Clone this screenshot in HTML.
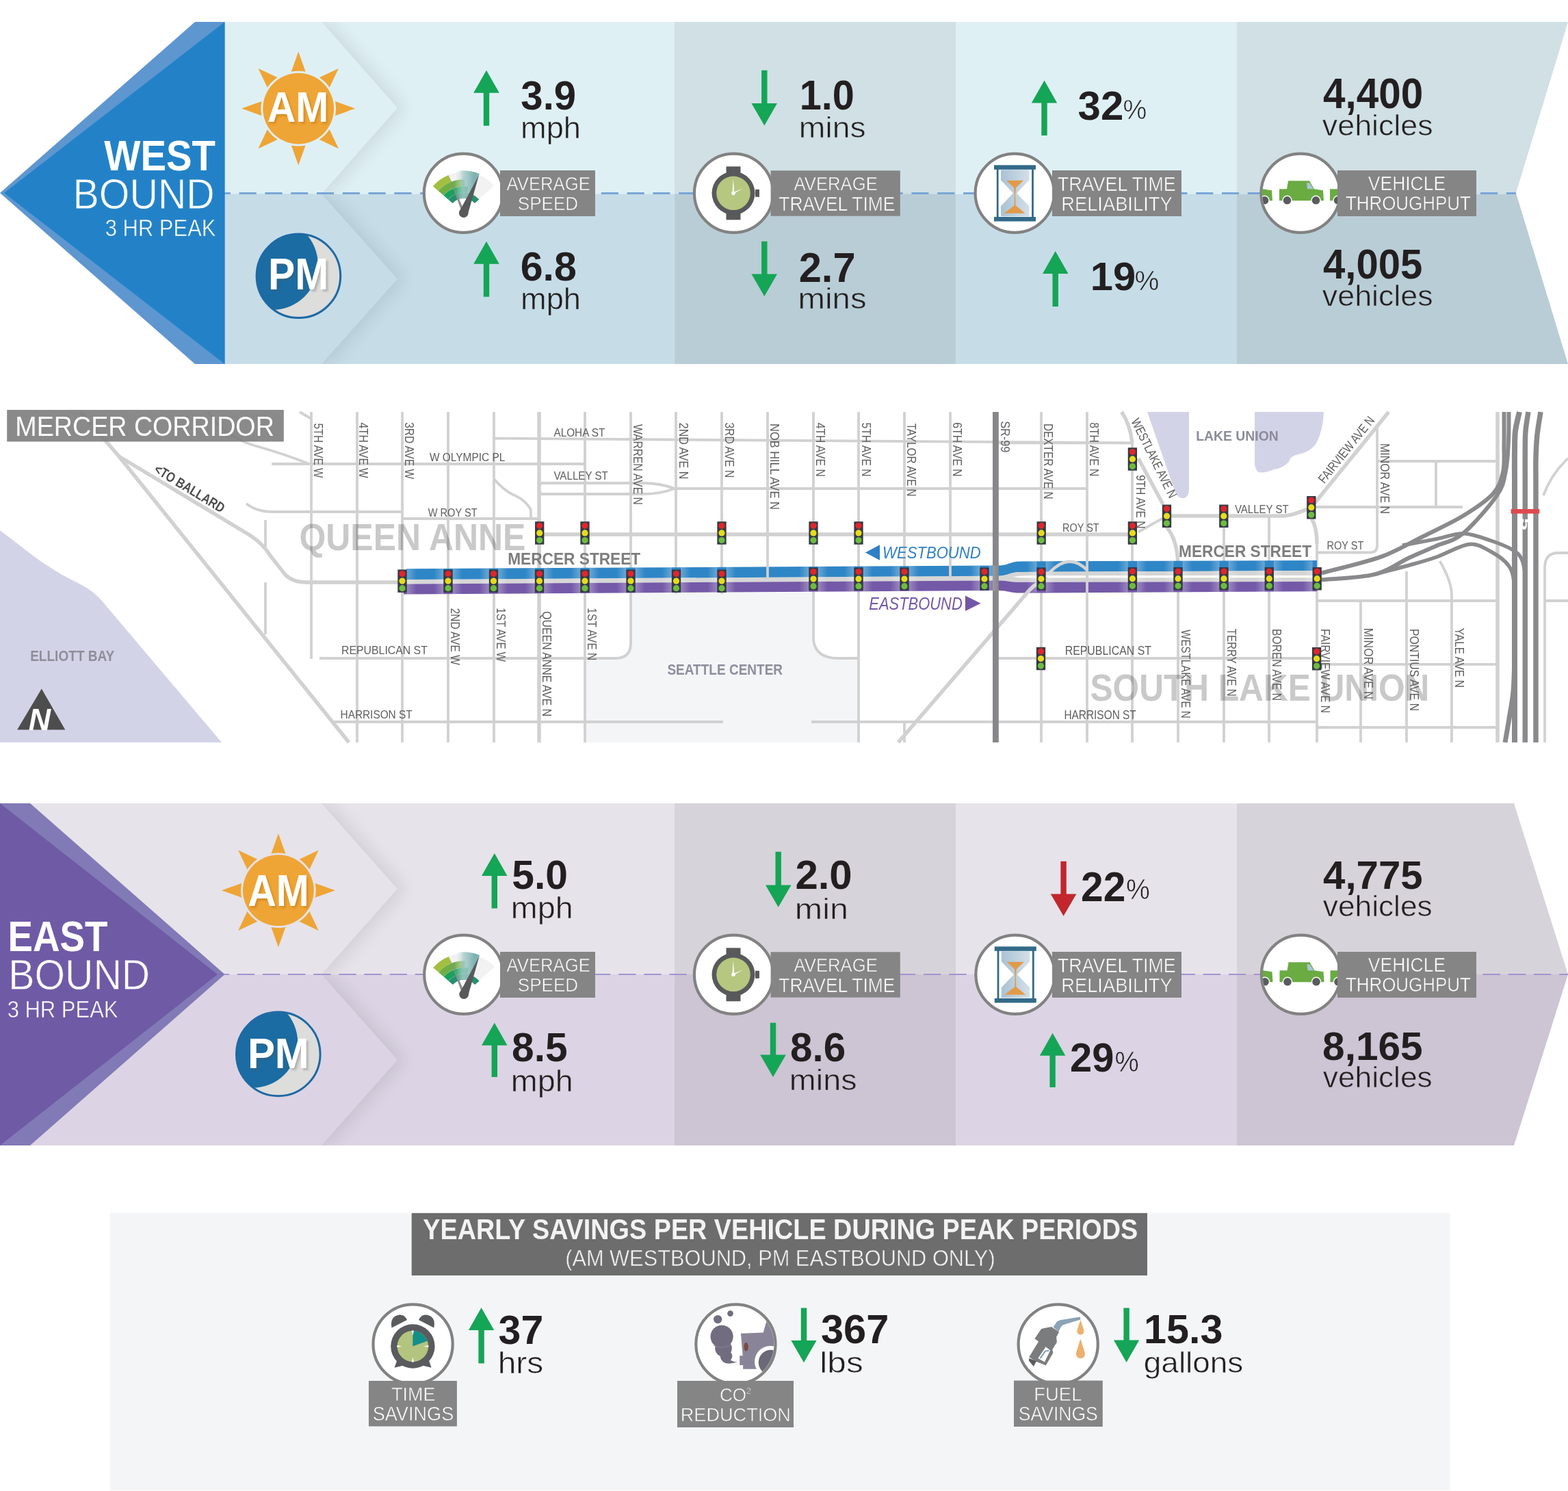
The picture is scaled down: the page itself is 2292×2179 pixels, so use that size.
<!DOCTYPE html>
<html><head><meta charset="utf-8"><title>Mercer Corridor</title>
<style>html,body{margin:0;padding:0;background:#fff;} svg{display:block;} text{font-family:"Liberation Sans", sans-serif;}</style>
</head><body>
<svg xmlns="http://www.w3.org/2000/svg" width="2292" height="2179" viewBox="0 0 2292 2179">
<rect width="2292" height="2179" fill="#fff"/>
<defs><filter id="blur8" x="-20%" y="-20%" width="140%" height="140%"><feGaussianBlur stdDeviation="7"/></filter><filter id="blur12" x="-30%" y="-30%" width="160%" height="160%"><feGaussianBlur stdDeviation="12"/></filter><filter id="blur2" x="-20%" y="-20%" width="140%" height="140%"><feGaussianBlur stdDeviation="1.5"/></filter></defs>
<rect x="328" y="32" width="1480" height="251.39999999999998" fill="#dff0f5"/>
<rect x="328" y="283.4" width="1480" height="248.60000000000002" fill="#c6dde8"/>
<rect x="986" y="32" width="411" height="251.39999999999998" fill="#d0e0e5"/>
<rect x="986" y="283.4" width="411" height="248.60000000000002" fill="#b9cdd6"/>
<polygon fill="#d0e0e5" points="1808,32 2292,32 2216,282 2216.4,283.4 1808,283.4"/>
<polygon fill="#b9cdd6" points="1808,283.4 2216.4,283.4 2292,532 1808,532"/>
<clipPath id="chcw32"><rect x="328" y="32" width="400" height="251.39999999999998"/></clipPath>
<g clip-path="url(#chcw32)"><polygon points="328,32 470,32 581,157.7 470,283.4 328,283.4" fill="#000" opacity="0.085" filter="url(#blur12)" transform="translate(11,0)"/><polygon points="328,32 470,32 581,157.7 470,283.4 328,283.4" fill="#dff0f5"/></g>
<clipPath id="chcw283.4"><rect x="328" y="283.4" width="400" height="248.60000000000002"/></clipPath>
<g clip-path="url(#chcw283.4)"><polygon points="328,283.4 470,283.4 581,407.7 470,532.0 328,532.0" fill="#000" opacity="0.085" filter="url(#blur12)" transform="translate(11,0)"/><polygon points="328,283.4 470,283.4 581,407.7 470,532.0 328,532.0" fill="#c6dde8"/></g>
<line x1="328" y1="282.5" x2="2216" y2="282.5" stroke="#79a6d7" stroke-width="2.8" stroke-dasharray="25.1 12.7" stroke-dashoffset="16.2"/>
<polygon fill="#5e96d0" points="285,32 328.5,32 328.5,532 285,532 0,282"/>
<polygon fill="#2382c7" points="328.5,32 328.5,532 6,282"/>
<rect x="0" y="1174" width="1808" height="250" fill="#e6e3ea"/>
<rect x="0" y="1424" width="1808" height="250" fill="#dcd4e4"/>
<rect x="986" y="1174" width="411" height="250" fill="#d7d3da"/>
<rect x="986" y="1424" width="411" height="250" fill="#cdc4d4"/>
<polygon fill="#d7d3da" points="1808,1174 2213,1174 2292,1424 1808,1424"/>
<polygon fill="#cdc4d4" points="1808,1424 2292,1424 2213,1674 1808,1674"/>
<clipPath id="chce1174"><rect x="328" y="1174" width="400" height="250"/></clipPath>
<g clip-path="url(#chce1174)"><polygon points="328,1174 470,1174 581,1299.0 470,1424 328,1424" fill="#000" opacity="0.085" filter="url(#blur12)" transform="translate(11,0)"/><polygon points="328,1174 470,1174 581,1299.0 470,1424 328,1424" fill="#e6e3ea"/></g>
<clipPath id="chce1424"><rect x="328" y="1424" width="400" height="250"/></clipPath>
<g clip-path="url(#chce1424)"><polygon points="328,1424 470,1424 581,1549.0 470,1674 328,1674" fill="#000" opacity="0.085" filter="url(#blur12)" transform="translate(11,0)"/><polygon points="328,1424 470,1424 581,1549.0 470,1674 328,1674" fill="#dcd4e4"/></g>
<line x1="328" y1="1424" x2="2292" y2="1424" stroke="#a294cf" stroke-width="2" stroke-dasharray="25.3 11.86" stroke-dashoffset="18.4"/>
<polygon fill="#8279b7" points="0,1174 44,1174 328.5,1424 44,1674 0,1674"/>
<polygon fill="#6f5aa6" points="0,1174 318,1424 0,1674"/>
<text x="152.31" y="249.07" font-size="62.97" font-weight="bold" fill="#fff" textLength="162.66" lengthAdjust="spacingAndGlyphs">WEST</text>
<text x="106.62" y="304.77" font-size="62.97" fill="#fff" textLength="207.13" lengthAdjust="spacingAndGlyphs" stroke="#2382c7" stroke-width="0.8">BOUND</text>
<text x="153.76" y="345.25" font-size="34.67" fill="#fff" textLength="161.67" lengthAdjust="spacingAndGlyphs" stroke="#2382c7" stroke-width="0.5">3 HR PEAK</text>
<text x="11.55" y="1390.17" font-size="62.83" font-weight="bold" fill="#fff" textLength="145.91" lengthAdjust="spacingAndGlyphs">EAST</text>
<text x="12.22" y="1446.17" font-size="62.83" fill="#fff" textLength="207.03" lengthAdjust="spacingAndGlyphs" stroke="#6f5aa6" stroke-width="0.8">BOUND</text>
<text x="10.66" y="1486.56" font-size="34.39" fill="#fff" textLength="161.88" lengthAdjust="spacingAndGlyphs" stroke="#6f5aa6" stroke-width="0.5">3 HR PEAK</text>
<polygon fill="#eea535" points="436.2,75.6 448.0,108.6 424.4,108.6"/>
<polygon fill="#eea535" points="494.9,99.9 479.9,131.6 463.2,114.9"/>
<polygon fill="#eea535" points="519.2,158.6 486.2,170.4 486.2,146.8"/>
<polygon fill="#eea535" points="494.9,217.3 463.2,202.3 479.9,185.6"/>
<polygon fill="#eea535" points="436.2,241.6 424.4,208.6 448.0,208.6"/>
<polygon fill="#eea535" points="377.5,217.3 392.5,185.6 409.2,202.3"/>
<polygon fill="#eea535" points="353.2,158.6 386.2,146.8 386.2,170.4"/>
<polygon fill="#eea535" points="377.5,99.9 409.2,114.9 392.5,131.6"/>
<circle cx="436.2" cy="158.6" r="54.8" fill="#dff0f5"/>
<circle cx="436.2" cy="158.6" r="51.9" fill="#eea535"/>
<clipPath id="mcw"><circle cx="436.4" cy="403.3" r="60.5"/></clipPath>
<circle cx="436.4" cy="403.3" r="61.3" fill="#dddddb"/>
<circle cx="398.59999999999997" cy="386.5" r="66.2" fill="#1b6ca2" clip-path="url(#mcw)"/>
<circle cx="436.4" cy="403.3" r="61.3" fill="none" stroke="#1d69a5" stroke-width="3"/>
<text x="393.16" y="180.80" font-size="63.33" font-weight="bold" fill="#b86f12" textLength="89.58" lengthAdjust="spacingAndGlyphs" opacity="0.45" filter="url(#blur2)">AM</text>
<text x="390.66" y="178.30" font-size="63.33" font-weight="bold" fill="#fff" textLength="89.58" lengthAdjust="spacingAndGlyphs">AM</text>
<text x="394.98" y="426.00" font-size="64.93" font-weight="bold" fill="#555" textLength="88.24" lengthAdjust="spacingAndGlyphs" opacity="0.3" filter="url(#blur2)">PM</text>
<text x="391.98" y="423.00" font-size="64.93" font-weight="bold" fill="#fff" textLength="88.24" lengthAdjust="spacingAndGlyphs">PM</text>
<circle cx="677.4" cy="282.3" r="57.6" fill="#fff" stroke="#828282" stroke-width="4.2"/>
<path fill="#f2f2f2" opacity="1" d="M655.2,255.6 A60,60 0 0 1 722.3,271.1 L693.7,296.8 A21.5,21.5 0 0 0 669.6,291.3 Z"/>
<path fill="#a3bf3f" opacity="1" d="M632.8,272.2 A59.5,59.5 0 0 1 655.4,256.0 L659.3,265.8 A49,49 0 0 0 640.7,279.1 Z"/>
<path fill="#6fae45" opacity="1" d="M640.7,279.1 A49,49 0 0 1 679.4,262.2 L679.1,272.2 A39,39 0 0 0 648.3,285.6 Z"/>
<path fill="#18a25e" opacity="1" d="M648.3,285.6 A39,39 0 0 1 684.5,272.8 L682.9,281.7 A30,30 0 0 0 655.1,291.5 Z"/>
<path fill="#25906f" opacity="1" d="M655.1,291.5 A30,30 0 0 1 700.3,291.5 L693.9,297.1 A21.5,21.5 0 0 0 661.5,297.1 Z"/>
<defs><linearGradient id="sgw" gradientUnits="userSpaceOnUse" x1="664.0" y1="0" x2="692.7" y2="0"><stop offset="0" stop-color="#f4f4f4" stop-opacity="0"/><stop offset="0.45" stop-color="#a9cccb" stop-opacity="0.8"/><stop offset="1" stop-color="#7fb3b3"/></linearGradient></defs>
<path fill="url(#sgw)" opacity="1" d="M655.6,253.6 A61.7,61.7 0 0 1 700.8,254.0 L685.8,291.3 A21.5,21.5 0 0 0 670.0,291.1 Z"/>
<polygon fill="#8e8e8e" points="655.5,255.5 679.7,310.4 675.7,312.0"/>
<polygon fill="#58595b" points="700.2,255.6 683.7,313.6 671.7,308.8"/>
<circle cx="677.7" cy="311.2" r="6.8" fill="#58595b"/>
<circle cx="1072.5" cy="282.3" r="57.6" fill="#fff" stroke="#828282" stroke-width="4.2"/>
<rect x="1061.5" y="243.3" width="21" height="78" fill="#58595b"/>
<rect x="1104.0" y="276.8" width="6" height="11" fill="#58595b"/>
<circle cx="1072.0" cy="282.3" r="31.5" fill="#58595b"/>
<circle cx="1072.0" cy="282.3" r="24.8" fill="#b6c780"/>
<polygon fill="#fff" points="1070.4,282.3 1071.8,261.3 1073.4,282.3"/>
<polygon fill="#fff" points="1071.2,283.8 1086.5,275.1 1072.8,280.8"/>
<circle cx="1072.0" cy="282.3" r="2.8" fill="#fff"/>
<circle cx="1483.2" cy="282.3" r="57.6" fill="#fff" stroke="#828282" stroke-width="4.2"/>
<defs><linearGradient id="hgw" x1="0" y1="0" x2="1" y2="0"><stop offset="0" stop-color="#a9c2d5"/><stop offset="1" stop-color="#d3dfe8"/></linearGradient></defs>
<path fill="url(#hgw)" d="M1463.0,248.3 L1504.5,248.3 L1504.5,263.3 L1486.0,282.3 L1504.5,301.3 L1504.5,316.3 L1463.0,316.3 L1463.0,301.3 L1481.0,282.3 L1463.0,263.3 Z"/>
<path fill="#e29a48" d="M1471.0,263.8 L1496.0,263.8 L1485.0,274.3 L1484.1,284.3 L1484.5,300.3 L1498.5,311.8 L1467.5,311.8 L1482.5,300.3 L1482.9,284.3 L1482.0,274.3 Z"/>
<rect x="1456.8" y="246.3" width="2.8" height="72" fill="#336a88"/>
<rect x="1508.1" y="246.3" width="2.8" height="72" fill="#336a88"/>
<rect x="1453.0" y="241.3" width="61" height="6.5" fill="#336a88"/>
<rect x="1453.0" y="317.0" width="61" height="6.5" fill="#336a88"/>
<circle cx="1901" cy="282.3" r="57.6" fill="#fff" stroke="#828282" stroke-width="4.2"/>
<clipPath id="ccw"><circle cx="1901" cy="282.3" r="56"/></clipPath>
<g clip-path="url(#ccw)">
<g transform="translate(1870,295.3) scale(1.0)"><path fill="#6aab42" d="M0,-19 L11,-19 L13,-31 L44,-31 L51,-19 L64,-17 L65,-2 L0,-2 Z"/><path fill="#a9c6d6" d="M40,-28 L44,-28 L50,-19 L41,-19 Z"/><circle cx="11.5" cy="-2.5" r="7.2" fill="#fff"/><circle cx="11.5" cy="-2.5" r="5.8" fill="#5a5b5e"/><circle cx="53.5" cy="-2.5" r="7.2" fill="#fff"/><circle cx="53.5" cy="-2.5" r="5.8" fill="#5a5b5e"/></g>
<g transform="translate(1795,295.3) scale(1.0)"><path fill="#6aab42" d="M0,-19 L11,-19 L13,-31 L44,-31 L51,-19 L64,-17 L65,-2 L0,-2 Z"/><path fill="#a9c6d6" d="M40,-28 L44,-28 L50,-19 L41,-19 Z"/><circle cx="11.5" cy="-2.5" r="7.2" fill="#fff"/><circle cx="11.5" cy="-2.5" r="5.8" fill="#5a5b5e"/><circle cx="53.5" cy="-2.5" r="7.2" fill="#fff"/><circle cx="53.5" cy="-2.5" r="5.8" fill="#5a5b5e"/></g>
<g transform="translate(1944,295.3) scale(1.0)"><path fill="#6aab42" d="M0,-19 L11,-19 L13,-31 L44,-31 L51,-19 L64,-17 L65,-2 L0,-2 Z"/><path fill="#a9c6d6" d="M40,-28 L44,-28 L50,-19 L41,-19 Z"/><circle cx="11.5" cy="-2.5" r="7.2" fill="#fff"/><circle cx="11.5" cy="-2.5" r="5.8" fill="#5a5b5e"/><circle cx="53.5" cy="-2.5" r="7.2" fill="#fff"/><circle cx="53.5" cy="-2.5" r="5.8" fill="#5a5b5e"/></g>
</g>
<rect x="731" y="249" width="139" height="67" fill="#858585"/>
<rect x="1126.6" y="249.3" width="189.20000000000005" height="66.39999999999998" fill="#858585"/>
<rect x="1538" y="249" width="189" height="67" fill="#858585"/>
<rect x="1955" y="249" width="203" height="67" fill="#858585"/>
<text x="740.51" y="278.12" font-size="28.02" fill="#fff" textLength="122.42" lengthAdjust="spacingAndGlyphs" stroke="#858585" stroke-width="0.6">AVERAGE</text>
<text x="756.78" y="307.33" font-size="27.31" fill="#fff" textLength="88.44" lengthAdjust="spacingAndGlyphs" stroke="#858585" stroke-width="0.6">SPEED</text>
<text x="1160.51" y="278.32" font-size="28.44" fill="#fff" textLength="122.42" lengthAdjust="spacingAndGlyphs" stroke="#858585" stroke-width="0.6">AVERAGE</text>
<text x="1138.19" y="307.80" font-size="28.99" fill="#fff" textLength="170.33" lengthAdjust="spacingAndGlyphs" stroke="#858585" stroke-width="0.6">TRAVEL TIME</text>
<text x="1545.68" y="278.60" font-size="30.29" fill="#fff" textLength="173.16" lengthAdjust="spacingAndGlyphs" stroke="#858585" stroke-width="0.6">TRAVEL TIME</text>
<text x="1551.22" y="307.50" font-size="29.71" fill="#fff" textLength="162.42" lengthAdjust="spacingAndGlyphs" stroke="#858585" stroke-width="0.6">RELIABILITY</text>
<text x="1999.82" y="278.01" font-size="28.87" fill="#fff" textLength="113.31" lengthAdjust="spacingAndGlyphs" stroke="#858585" stroke-width="0.6">VEHICLE</text>
<text x="1966.89" y="307.31" font-size="29.43" fill="#fff" textLength="182.97" lengthAdjust="spacingAndGlyphs" stroke="#858585" stroke-width="0.6">THROUGHPUT</text>
<polygon fill="#eea535" points="406.9,1218.2 418.7,1251.2 395.1,1251.2"/>
<polygon fill="#eea535" points="465.6,1242.5 450.6,1274.2 433.9,1257.5"/>
<polygon fill="#eea535" points="489.9,1301.2 456.9,1313.0 456.9,1289.4"/>
<polygon fill="#eea535" points="465.6,1359.9 433.9,1344.9 450.6,1328.2"/>
<polygon fill="#eea535" points="406.9,1384.2 395.1,1351.2 418.7,1351.2"/>
<polygon fill="#eea535" points="348.2,1359.9 363.2,1328.2 379.9,1344.9"/>
<polygon fill="#eea535" points="323.9,1301.2 356.9,1289.4 356.9,1313.0"/>
<polygon fill="#eea535" points="348.2,1242.5 379.9,1257.5 363.2,1274.2"/>
<circle cx="406.9" cy="1301.2" r="54.8" fill="#e6e3ea"/>
<circle cx="406.9" cy="1301.2" r="51.9" fill="#eea535"/>
<clipPath id="mce"><circle cx="406.8" cy="1540.4" r="60.5"/></clipPath>
<circle cx="406.8" cy="1540.4" r="61.3" fill="#dddddb"/>
<circle cx="369.0" cy="1523.6000000000001" r="66.2" fill="#1b6ca2" clip-path="url(#mce)"/>
<circle cx="406.8" cy="1540.4" r="61.3" fill="none" stroke="#1d69a5" stroke-width="3"/>
<text x="364.66" y="1326.50" font-size="63.91" font-weight="bold" fill="#b86f12" textLength="89.58" lengthAdjust="spacingAndGlyphs" opacity="0.45" filter="url(#blur2)">AM</text>
<text x="362.16" y="1324.00" font-size="63.91" font-weight="bold" fill="#fff" textLength="89.58" lengthAdjust="spacingAndGlyphs">AM</text>
<text x="364.90" y="1563.60" font-size="63.33" font-weight="bold" fill="#555" textLength="89.89" lengthAdjust="spacingAndGlyphs" opacity="0.3" filter="url(#blur2)">PM</text>
<text x="361.90" y="1560.60" font-size="63.33" font-weight="bold" fill="#fff" textLength="89.89" lengthAdjust="spacingAndGlyphs">PM</text>
<circle cx="677.8" cy="1424.3" r="57.6" fill="#fff" stroke="#828282" stroke-width="4.2"/>
<path fill="#f2f2f2" opacity="1" d="M655.6,1397.6 A60,60 0 0 1 722.7,1413.1 L694.1,1438.8 A21.5,21.5 0 0 0 670.0,1433.3 Z"/>
<path fill="#a3bf3f" opacity="1" d="M633.2,1414.2 A59.5,59.5 0 0 1 655.8,1398.0 L659.7,1407.8 A49,49 0 0 0 641.1,1421.1 Z"/>
<path fill="#6fae45" opacity="1" d="M641.1,1421.1 A49,49 0 0 1 679.8,1404.2 L679.5,1414.2 A39,39 0 0 0 648.7,1427.6 Z"/>
<path fill="#18a25e" opacity="1" d="M648.7,1427.6 A39,39 0 0 1 684.9,1414.8 L683.3,1423.7 A30,30 0 0 0 655.5,1433.5 Z"/>
<path fill="#25906f" opacity="1" d="M655.5,1433.5 A30,30 0 0 1 700.7,1433.5 L694.3,1439.1 A21.5,21.5 0 0 0 661.9,1439.1 Z"/>
<defs><linearGradient id="sge" gradientUnits="userSpaceOnUse" x1="664.4" y1="0" x2="693.1" y2="0"><stop offset="0" stop-color="#f4f4f4" stop-opacity="0"/><stop offset="0.45" stop-color="#a9cccb" stop-opacity="0.8"/><stop offset="1" stop-color="#7fb3b3"/></linearGradient></defs>
<path fill="url(#sge)" opacity="1" d="M656.0,1395.6 A61.7,61.7 0 0 1 701.2,1396.0 L686.2,1433.3 A21.5,21.5 0 0 0 670.4,1433.1 Z"/>
<polygon fill="#8e8e8e" points="655.9,1397.5 680.1,1452.4 676.1,1454.0"/>
<polygon fill="#58595b" points="700.6,1397.6 684.1,1455.6 672.1,1450.8"/>
<circle cx="678.1" cy="1453.2" r="6.8" fill="#58595b"/>
<circle cx="1072.5" cy="1424.3" r="57.6" fill="#fff" stroke="#828282" stroke-width="4.2"/>
<rect x="1061.5" y="1385.3" width="21" height="78" fill="#58595b"/>
<rect x="1104.0" y="1418.8" width="6" height="11" fill="#58595b"/>
<circle cx="1072.0" cy="1424.3" r="31.5" fill="#58595b"/>
<circle cx="1072.0" cy="1424.3" r="24.8" fill="#b6c780"/>
<polygon fill="#fff" points="1070.4,1424.3 1071.8,1403.3 1073.4,1424.3"/>
<polygon fill="#fff" points="1071.2,1425.8 1086.5,1417.1 1072.8,1422.8"/>
<circle cx="1072.0" cy="1424.3" r="2.8" fill="#fff"/>
<circle cx="1484" cy="1424.3" r="57.6" fill="#fff" stroke="#828282" stroke-width="4.2"/>
<defs><linearGradient id="hge" x1="0" y1="0" x2="1" y2="0"><stop offset="0" stop-color="#a9c2d5"/><stop offset="1" stop-color="#d3dfe8"/></linearGradient></defs>
<path fill="url(#hge)" d="M1463.8,1390.3 L1505.3,1390.3 L1505.3,1405.3 L1486.8,1424.3 L1505.3,1443.3 L1505.3,1458.3 L1463.8,1458.3 L1463.8,1443.3 L1481.8,1424.3 L1463.8,1405.3 Z"/>
<path fill="#e29a48" d="M1471.8,1405.8 L1496.8,1405.8 L1485.8,1416.3 L1484.8999999999999,1426.3 L1485.3,1442.3 L1499.3,1453.8 L1468.3,1453.8 L1483.3,1442.3 L1483.7,1426.3 L1482.8,1416.3 Z"/>
<rect x="1457.6" y="1388.3" width="2.8" height="72" fill="#336a88"/>
<rect x="1508.8999999999999" y="1388.3" width="2.8" height="72" fill="#336a88"/>
<rect x="1453.8" y="1383.3" width="61" height="6.5" fill="#336a88"/>
<rect x="1453.8" y="1459.0" width="61" height="6.5" fill="#336a88"/>
<circle cx="1901.5" cy="1424.3" r="57.6" fill="#fff" stroke="#828282" stroke-width="4.2"/>
<clipPath id="cce"><circle cx="1901.5" cy="1424.3" r="56"/></clipPath>
<g clip-path="url(#cce)">
<g transform="translate(1870.5,1437.3) scale(1.0)"><path fill="#6aab42" d="M0,-19 L11,-19 L13,-31 L44,-31 L51,-19 L64,-17 L65,-2 L0,-2 Z"/><path fill="#a9c6d6" d="M40,-28 L44,-28 L50,-19 L41,-19 Z"/><circle cx="11.5" cy="-2.5" r="7.2" fill="#fff"/><circle cx="11.5" cy="-2.5" r="5.8" fill="#5a5b5e"/><circle cx="53.5" cy="-2.5" r="7.2" fill="#fff"/><circle cx="53.5" cy="-2.5" r="5.8" fill="#5a5b5e"/></g>
<g transform="translate(1795.5,1437.3) scale(1.0)"><path fill="#6aab42" d="M0,-19 L11,-19 L13,-31 L44,-31 L51,-19 L64,-17 L65,-2 L0,-2 Z"/><path fill="#a9c6d6" d="M40,-28 L44,-28 L50,-19 L41,-19 Z"/><circle cx="11.5" cy="-2.5" r="7.2" fill="#fff"/><circle cx="11.5" cy="-2.5" r="5.8" fill="#5a5b5e"/><circle cx="53.5" cy="-2.5" r="7.2" fill="#fff"/><circle cx="53.5" cy="-2.5" r="5.8" fill="#5a5b5e"/></g>
<g transform="translate(1944.5,1437.3) scale(1.0)"><path fill="#6aab42" d="M0,-19 L11,-19 L13,-31 L44,-31 L51,-19 L64,-17 L65,-2 L0,-2 Z"/><path fill="#a9c6d6" d="M40,-28 L44,-28 L50,-19 L41,-19 Z"/><circle cx="11.5" cy="-2.5" r="7.2" fill="#fff"/><circle cx="11.5" cy="-2.5" r="5.8" fill="#5a5b5e"/><circle cx="53.5" cy="-2.5" r="7.2" fill="#fff"/><circle cx="53.5" cy="-2.5" r="5.8" fill="#5a5b5e"/></g>
</g>
<rect x="731" y="1391" width="139" height="67" fill="#858585"/>
<rect x="1126.6" y="1391.3" width="189.20000000000005" height="66.40000000000009" fill="#858585"/>
<rect x="1538" y="1391" width="189" height="67" fill="#858585"/>
<rect x="1955" y="1391" width="203" height="67" fill="#858585"/>
<text x="740.51" y="1420.12" font-size="28.02" fill="#fff" textLength="122.42" lengthAdjust="spacingAndGlyphs" stroke="#858585" stroke-width="0.6">AVERAGE</text>
<text x="756.78" y="1449.33" font-size="27.31" fill="#fff" textLength="88.44" lengthAdjust="spacingAndGlyphs" stroke="#858585" stroke-width="0.6">SPEED</text>
<text x="1160.51" y="1420.32" font-size="28.44" fill="#fff" textLength="122.42" lengthAdjust="spacingAndGlyphs" stroke="#858585" stroke-width="0.6">AVERAGE</text>
<text x="1138.19" y="1449.80" font-size="28.99" fill="#fff" textLength="170.33" lengthAdjust="spacingAndGlyphs" stroke="#858585" stroke-width="0.6">TRAVEL TIME</text>
<text x="1545.68" y="1420.60" font-size="30.29" fill="#fff" textLength="173.16" lengthAdjust="spacingAndGlyphs" stroke="#858585" stroke-width="0.6">TRAVEL TIME</text>
<text x="1551.22" y="1449.50" font-size="29.71" fill="#fff" textLength="162.42" lengthAdjust="spacingAndGlyphs" stroke="#858585" stroke-width="0.6">RELIABILITY</text>
<text x="1999.82" y="1420.01" font-size="28.87" fill="#fff" textLength="113.31" lengthAdjust="spacingAndGlyphs" stroke="#858585" stroke-width="0.6">VEHICLE</text>
<text x="1966.89" y="1449.31" font-size="29.43" fill="#fff" textLength="182.97" lengthAdjust="spacingAndGlyphs" stroke="#858585" stroke-width="0.6">THROUGHPUT</text>
<polygon fill="#15a556" points="711.0,102.8 729.8,135.8 715.2,135.8 715.2,183.8 706.8,183.8 706.8,135.8 692.2,135.8"/>
<polygon fill="#15a556" points="711.0,352.8 729.8,385.8 715.2,385.8 715.2,433.8 706.8,433.8 706.8,385.8 692.2,385.8"/>
<polygon fill="#15a556" points="1117.3,183.4 1136.0,151.0 1121.5,151.0 1121.5,102.8 1113.1,102.8 1113.1,151.0 1098.5,151.0"/>
<polygon fill="#15a556" points="1117.3,433.0 1136.0,400.6 1121.5,400.6 1121.5,352.8 1113.1,352.8 1113.1,400.6 1098.5,400.6"/>
<polygon fill="#15a556" points="1526.5,117.6 1545.2,150.6 1530.7,150.6 1530.7,197.9 1522.3,197.9 1522.3,150.6 1507.8,150.6"/>
<polygon fill="#15a556" points="1542.7,367.0 1561.5,400.0 1546.9,400.0 1546.9,448.0 1538.5,448.0 1538.5,400.0 1524.0,400.0"/>
<polygon fill="#15a556" points="722.8,1247.0 741.5,1280.0 727.0,1280.0 727.0,1327.5 718.6,1327.5 718.6,1280.0 704.0,1280.0"/>
<polygon fill="#15a556" points="722.8,1494.7 741.5,1527.7 727.0,1527.7 727.0,1574.0 718.6,1574.0 718.6,1527.7 704.0,1527.7"/>
<polygon fill="#15a556" points="1137.7,1325.8 1156.5,1293.4 1141.9,1293.4 1141.9,1244.8 1133.5,1244.8 1133.5,1293.4 1119.0,1293.4"/>
<polygon fill="#15a556" points="1130.0,1574.0 1148.8,1541.6 1134.2,1541.6 1134.2,1494.7 1125.8,1494.7 1125.8,1541.6 1111.2,1541.6"/>
<polygon fill="#c1272d" points="1554.6,1338.8 1573.3,1306.4 1558.8,1306.4 1558.8,1258.8 1550.4,1258.8 1550.4,1306.4 1535.8,1306.4"/>
<polygon fill="#15a556" points="1538.6,1509.8 1557.3,1542.8 1542.8,1542.8 1542.8,1589.0 1534.4,1589.0 1534.4,1542.8 1519.8,1542.8"/>
<text x="761.34" y="160.01" font-size="59.15" font-weight="bold" fill="#231f20" textLength="80.80" lengthAdjust="spacingAndGlyphs">3.9</text>
<text x="760.99" y="202.31" font-size="44.46" fill="#231f20" textLength="87.97" lengthAdjust="spacingAndGlyphs" stroke="#dff0f5" stroke-width="0.6">mph</text>
<text x="760.63" y="410.21" font-size="59.15" font-weight="bold" fill="#231f20" textLength="82.15" lengthAdjust="spacingAndGlyphs">6.8</text>
<text x="760.99" y="452.31" font-size="44.46" fill="#231f20" textLength="87.97" lengthAdjust="spacingAndGlyphs" stroke="#c6dde8" stroke-width="0.6">mph</text>
<text x="1168.65" y="160.19" font-size="60.71" font-weight="bold" fill="#231f20" textLength="80.17" lengthAdjust="spacingAndGlyphs">1.0</text>
<text x="1167.81" y="201.37" font-size="42.76" fill="#231f20" textLength="97.79" lengthAdjust="spacingAndGlyphs" stroke="#d0e0e5" stroke-width="0.6">mins</text>
<text x="1167.71" y="411.60" font-size="61.15" font-weight="bold" fill="#231f20" textLength="82.88" lengthAdjust="spacingAndGlyphs">2.7</text>
<text x="1166.54" y="450.57" font-size="42.76" fill="#231f20" textLength="100.10" lengthAdjust="spacingAndGlyphs" stroke="#b9cdd6" stroke-width="0.6">mins</text>
<text x="1575.60" y="174.61" font-size="58.58" font-weight="bold" fill="#231f20" textLength="66.74" lengthAdjust="spacingAndGlyphs">32</text>
<text x="1641.56" y="174.13" font-size="40.57" fill="#231f20" textLength="34.84" lengthAdjust="spacingAndGlyphs" stroke="#dff0f5" stroke-width="0.6">%</text>
<text x="1593.72" y="424.43" font-size="57.45" font-weight="bold" fill="#231f20" textLength="66.41" lengthAdjust="spacingAndGlyphs">19</text>
<text x="1658.52" y="424.13" font-size="40.57" fill="#231f20" textLength="35.93" lengthAdjust="spacingAndGlyphs" stroke="#c6dde8" stroke-width="0.6">%</text>
<text x="1934.03" y="157.80" font-size="62.87" font-weight="bold" fill="#231f20" textLength="146.15" lengthAdjust="spacingAndGlyphs">4,400</text>
<text x="1932.85" y="198.47" font-size="43.17" fill="#231f20" textLength="161.77" lengthAdjust="spacingAndGlyphs" stroke="#d0e0e5" stroke-width="0.6">vehicles</text>
<text x="1934.03" y="406.90" font-size="60.43" font-weight="bold" fill="#231f20" textLength="145.36" lengthAdjust="spacingAndGlyphs">4,005</text>
<text x="1932.85" y="447.47" font-size="43.17" fill="#231f20" textLength="161.77" lengthAdjust="spacingAndGlyphs" stroke="#b9cdd6" stroke-width="0.6">vehicles</text>
<text x="748.24" y="1298.91" font-size="59.15" font-weight="bold" fill="#231f20" textLength="81.62" lengthAdjust="spacingAndGlyphs">5.0</text>
<text x="746.88" y="1341.71" font-size="44.46" fill="#231f20" textLength="90.97" lengthAdjust="spacingAndGlyphs" stroke="#e6e3ea" stroke-width="0.6">mph</text>
<text x="748.05" y="1550.91" font-size="59.01" font-weight="bold" fill="#231f20" textLength="81.53" lengthAdjust="spacingAndGlyphs">8.5</text>
<text x="746.88" y="1594.61" font-size="44.46" fill="#231f20" textLength="90.97" lengthAdjust="spacingAndGlyphs" stroke="#dcd4e4" stroke-width="0.6">mph</text>
<text x="1162.40" y="1299.41" font-size="59.43" font-weight="bold" fill="#231f20" textLength="83.30" lengthAdjust="spacingAndGlyphs">2.0</text>
<text x="1161.77" y="1343.00" font-size="43.35" fill="#231f20" textLength="78.17" lengthAdjust="spacingAndGlyphs" stroke="#d7d3da" stroke-width="0.6">min</text>
<text x="1155.06" y="1550.91" font-size="59.01" font-weight="bold" fill="#231f20" textLength="81.09" lengthAdjust="spacingAndGlyphs">8.6</text>
<text x="1153.88" y="1593.37" font-size="42.76" fill="#231f20" textLength="98.74" lengthAdjust="spacingAndGlyphs" stroke="#cdc4d4" stroke-width="0.6">mins</text>
<text x="1580.04" y="1317.00" font-size="61.72" font-weight="bold" fill="#231f20" textLength="65.24" lengthAdjust="spacingAndGlyphs">22</text>
<text x="1645.96" y="1314.32" font-size="42.29" fill="#231f20" textLength="34.84" lengthAdjust="spacingAndGlyphs" stroke="#e6e3ea" stroke-width="0.6">%</text>
<text x="1564.07" y="1566.41" font-size="59.43" font-weight="bold" fill="#231f20" textLength="64.39" lengthAdjust="spacingAndGlyphs">29</text>
<text x="1629.55" y="1566.32" font-size="42.29" fill="#231f20" textLength="35.28" lengthAdjust="spacingAndGlyphs" stroke="#dcd4e4" stroke-width="0.6">%</text>
<text x="1934.03" y="1298.60" font-size="57.68" font-weight="bold" fill="#231f20" textLength="145.66" lengthAdjust="spacingAndGlyphs">4,775</text>
<text x="1933.85" y="1339.37" font-size="42.90" fill="#231f20" textLength="159.74" lengthAdjust="spacingAndGlyphs" stroke="#d7d3da" stroke-width="0.6">vehicles</text>
<text x="1933.05" y="1548.70" font-size="56.99" font-weight="bold" fill="#231f20" textLength="146.66" lengthAdjust="spacingAndGlyphs">8,165</text>
<text x="1933.85" y="1589.47" font-size="42.90" fill="#231f20" textLength="159.74" lengthAdjust="spacingAndGlyphs" stroke="#cdc4d4" stroke-width="0.6">vehicles</text>
<g id="map">
<path fill="#d3d3e8" d="M0,775 C20,790 40,806 55,817 C75,831 95,843 112,851 C128,859 138,866 148,877 L324,1085 L0,1085 Z"/>
<path fill="#d3d3e8" d="M1677,602 L1738,602 L1738,713 Q1738,728 1729,728 Q1720,728 1716,714 Z"/>
<path fill="#d3d3e8" d="M1834,602 L1935,602 Q1934,628 1925,646 Q1917,660 1898,664 Q1886,666 1884,675 Q1876,684 1862,686 Q1848,692 1840,690 Q1834,686 1834,676 Z"/>
<path fill="#f4f5f7" d="M923,866 L1189,866 L1189,935 Q1192,962 1225,962 L1255,962 L1255,1085 L857,1085 L857,962 L905,962 Q923,962 923,944 Z"/>
<path d="M304,602 Q330,640 375,652 Q420,665 452,678" fill="none" stroke="#d1d1d1" stroke-width="3.8"/>
<path d="M397,678 L855,678" fill="none" stroke="#d1d1d1" stroke-width="3.8"/>
<path d="M438,602 L455,612" fill="none" stroke="#d1d1d1" stroke-width="3.8"/>
<path d="M360,736 Q375,748 399,748 L588,748" fill="none" stroke="#d1d1d1" stroke-width="3.8"/>
<path d="M588,758 L788,758" fill="none" stroke="#d1d1d1" stroke-width="3.8"/>
<path d="M388,760 L388,800" fill="none" stroke="#d1d1d1" stroke-width="3.8"/>
<path d="M388,851 L388,927" fill="none" stroke="#d1d1d1" stroke-width="3.8"/>
<path d="M455,602 L455,963" fill="none" stroke="#d1d1d1" stroke-width="3.8"/>
<path d="M522,602 L522,1085" fill="none" stroke="#d1d1d1" stroke-width="3.8"/>
<path d="M588,602 L588,1085" fill="none" stroke="#d1d1d1" stroke-width="3.8"/>
<path d="M655,602 L655,1085" fill="none" stroke="#d1d1d1" stroke-width="3.8"/>
<path d="M722,602 L722,1085" fill="none" stroke="#d1d1d1" stroke-width="3.8"/>
<path d="M855,602 L855,1085" fill="none" stroke="#d1d1d1" stroke-width="3.8"/>
<path d="M922,602 L922,940 Q922,962 900,962 L467,962" fill="none" stroke="#d1d1d1" stroke-width="3.8"/>
<path d="M988,602 L988,868" fill="none" stroke="#d1d1d1" stroke-width="3.8"/>
<path d="M1055,602 L1055,868" fill="none" stroke="#d1d1d1" stroke-width="3.8"/>
<path d="M1122,602 L1122,846" fill="none" stroke="#d1d1d1" stroke-width="3.8"/>
<path d="M1189,602 L1189,935 Q1192,962 1225,962 L1255,962" fill="none" stroke="#d1d1d1" stroke-width="3.8"/>
<path d="M1255,602 L1255,1085" fill="none" stroke="#d1d1d1" stroke-width="3.8"/>
<path d="M1322,602 L1322,832" fill="none" stroke="#d1d1d1" stroke-width="3.8"/>
<path d="M1389,602 L1389,832" fill="none" stroke="#d1d1d1" stroke-width="3.8"/>
<path d="M1322,1055 L1322,1085" fill="none" stroke="#d1d1d1" stroke-width="3.8"/>
<path d="M1522,602 L1522,1085" fill="none" stroke="#d1d1d1" stroke-width="3.8"/>
<path d="M1589,602 L1589,1085" fill="none" stroke="#d1d1d1" stroke-width="3.8"/>
<path d="M1789,754 L1789,1085" fill="none" stroke="#d1d1d1" stroke-width="3.8"/>
<path d="M1855,754 L1855,1085" fill="none" stroke="#d1d1d1" stroke-width="3.8"/>
<path d="M1655,647 L1655,1085" fill="none" stroke="#d1d1d1" stroke-width="3.8"/>
<path d="M1722,829 L1722,1085" fill="none" stroke="#d1d1d1" stroke-width="3.8"/>
<path d="M1925,795 L1925,1085" fill="none" stroke="#d1d1d1" stroke-width="3.8"/>
<path d="M2013,625 L2013,797 Q2013,807.5 2003,807.5 L1925,807.5" fill="none" stroke="#d1d1d1" stroke-width="3.8"/>
<path d="M1989,878 L1989,1085" fill="none" stroke="#d1d1d1" stroke-width="3.8"/>
<path d="M2056,835 L2056,1085" fill="none" stroke="#d1d1d1" stroke-width="3.8"/>
<path d="M2104.6,820 Q2122,850 2122,870 L2122,1085" fill="none" stroke="#d1d1d1" stroke-width="3.8"/>
<path d="M2013,674 L2186,674" fill="none" stroke="#d1d1d1" stroke-width="3.8"/>
<path d="M2099,674 L2099,741" fill="none" stroke="#d1d1d1" stroke-width="3.8"/>
<path d="M1917,741 L2138,741" fill="none" stroke="#d1d1d1" stroke-width="3.8"/>
<path d="M1925,878 L2189,878" fill="none" stroke="#d1d1d1" stroke-width="3.8"/>
<path d="M1926,970.8 L2189,970.8" fill="none" stroke="#d1d1d1" stroke-width="3.8"/>
<path d="M1926,1063 L2189,1063" fill="none" stroke="#d1d1d1" stroke-width="3.8"/>
<path d="M2256,724 Q2268,692 2292,670" fill="none" stroke="#d1d1d1" stroke-width="3.8"/>
<path d="M2258,1085 L2258,830 Q2258,808 2278,808 L2292,808" fill="none" stroke="#d1d1d1" stroke-width="3.8"/>
<path d="M2258,878 L2292,878" fill="none" stroke="#d1d1d1" stroke-width="3.8"/>
<path d="M720,640.6 L1655,647.4" fill="none" stroke="#d1d1d1" stroke-width="3.8"/>
<path d="M791,706 L940,706 Q965,706 986,714 Q965,722 940,722 L791,722 Q784,714 791,706 Z" fill="none" stroke="#d1d1d1" stroke-width="3.8"/>
<path d="M722,700 Q735,715 748,722 Q768,730 776,745 L776,758" fill="none" stroke="#d1d1d1" stroke-width="3.8"/>
<path d="M986,714 L1589,714" fill="none" stroke="#d1d1d1" stroke-width="3.8"/>
<path d="M467,962 L900,962" fill="none" stroke="#d1d1d1" stroke-width="3.8"/>
<path d="M488,1055 L1057,1055" fill="none" stroke="#d1d1d1" stroke-width="3.8"/>
<path d="M1186,1055 L1926,1055" fill="none" stroke="#d1d1d1" stroke-width="3.8"/>
<path d="M1455,962 L1926,962" fill="none" stroke="#d1d1d1" stroke-width="3.8"/>
<path d="M1455,647.4 L1655,647.4" fill="none" stroke="#d1d1d1" stroke-width="3.8"/>
<path d="M1455,714.2 L1589,714.2" fill="none" stroke="#d1d1d1" stroke-width="3.8"/>
<path d="M1664,777.5 L1699,757.7" fill="none" stroke="#d1d1d1" stroke-width="3.8"/>
<path d="M788,602 L788,1085" fill="none" stroke="#d1d1d1" stroke-width="5.5"/>
<path d="M788,781 L1655,781" fill="none" stroke="#d1d1d1" stroke-width="5.5"/>
<path d="M174,667 L365,782 Q385,795 395,812 L417,840 Q428,851 448,851 L585,851" fill="none" stroke="#d1d1d1" stroke-width="5.5"/>
<path d="M2189,602 L2189,1085" fill="none" stroke="#d1d1d1" stroke-width="5.5"/>
<path d="M1639.5,602 Q1652,620 1655,647" fill="none" stroke="#d1d1d1" stroke-width="5.5"/>
<path d="M1664,670 L1700,737" fill="none" stroke="#d1d1d1" stroke-width="5.5"/>
<path d="M1705,770 Q1722,790 1722,829" fill="none" stroke="#d1d1d1" stroke-width="5.5"/>
<path d="M1917,741 L2030,602" fill="none" stroke="#d1d1d1" stroke-width="5.5"/>
<path d="M1705,754 L1878,754 Q1895,752 1917,741" fill="none" stroke="#d1d1d1" stroke-width="5.5"/>
<path d="M1917,758 Q1925,770 1925,795" fill="none" stroke="#d1d1d1" stroke-width="5.5"/>
<path d="M117.6,602 L174,667 L510,1085" fill="none" stroke="#d1d1d1" stroke-width="5.5"/>
<path d="M1931.8,837.4 C1946.3,833.4 1994.3,822.5 2019.0,813.6 C2043.7,804.7 2060.1,793.9 2080.0,784.0 C2099.9,774.1 2121.4,764.3 2138.4,754.0 C2155.4,743.7 2172.2,732.7 2182.0,722.0 C2191.8,711.3 2194.2,702.0 2197.0,690.0 C2199.8,678.0 2198.2,664.7 2198.5,650.0 C2198.8,635.3 2198.5,610.0 2198.5,602.0" fill="none" stroke="#8a8a8c" stroke-width="6"/>
<path d="M1931.8,847.3 C1944.7,846.0 1987.9,844.8 2009.3,839.4 C2030.7,834.0 2044.9,822.0 2060.0,815.0 C2075.1,808.0 2086.9,803.4 2100.0,797.5 C2113.1,791.6 2123.7,792.0 2138.4,779.8 C2153.1,767.6 2177.6,739.4 2188.0,724.1 C2198.4,708.8 2198.2,701.2 2201.0,688.0 C2203.8,674.8 2204.2,659.3 2205.0,645.0 C2205.8,630.7 2205.4,609.2 2205.5,602.0" fill="none" stroke="#8a8a8c" stroke-width="6"/>
<path d="M2050.0,797.0 C2058.3,795.4 2085.1,790.5 2100.0,787.6 C2114.9,784.7 2126.4,779.3 2139.6,779.7 C2152.8,780.1 2167.1,786.0 2179.0,790.0 C2190.9,794.0 2203.3,799.0 2210.8,803.4 C2218.3,807.8 2220.9,810.5 2224.0,816.6 C2227.1,822.7 2228.4,831.1 2229.3,840.0 C2230.2,848.9 2229.3,865.0 2229.3,870.0" fill="none" stroke="#8a8a8c" stroke-width="5.5"/>
<path d="M2009.3,839.4 C2017.8,837.2 2044.9,830.2 2060.0,826.0 C2075.1,821.8 2085.4,819.1 2100.0,814.0 C2114.6,808.9 2134.3,796.8 2147.5,795.5 C2160.7,794.2 2169.3,800.8 2179.0,806.0 C2188.7,811.2 2199.8,819.1 2205.5,827.0 C2211.2,834.9 2212.1,843.1 2213.5,853.6 C2214.9,864.1 2213.9,883.9 2214.0,890.0" fill="none" stroke="#8a8a8c" stroke-width="5.5"/>
<path d="M2221.0,602.0 C2220.0,606.7 2216.2,620.3 2215.0,630.0 C2213.8,639.7 2214.2,648.3 2214.0,660.0 C2213.8,671.7 2214.0,693.3 2214.0,700.0 L2214,1085" fill="none" stroke="#8a8a8c" stroke-width="8"/>
<path d="M2234.0,602.0 C2233.3,606.7 2230.8,620.3 2230.0,630.0 C2229.2,639.7 2229.4,648.3 2229.3,660.0 C2229.2,671.7 2229.3,693.3 2229.3,700.0 L2229.3,1085" fill="none" stroke="#8a8a8c" stroke-width="7.5"/>
<path d="M2252.0,602.0 C2251.2,607.5 2248.2,623.7 2247.0,635.0 C2245.8,646.3 2245.3,659.2 2245.0,670.0 C2244.7,680.8 2245.0,695.0 2245.0,700.0 L2245,1085" fill="none" stroke="#8a8a8c" stroke-width="7.5"/>
<path d="M2214.0,960.0 C2213.7,968.3 2213.3,995.0 2212.0,1010.0 C2210.7,1025.0 2208.0,1037.5 2206.0,1050.0 C2204.0,1062.5 2201.0,1079.2 2200.0,1085.0" fill="none" stroke="#8a8a8c" stroke-width="7"/>
<rect x="2208.6" y="744" width="41.7" height="6.6" fill="#de4a4f"/>
<defs><linearGradient id="bgrad" x1="0" y1="0" x2="1" y2="0"><stop offset="0" stop-color="#5d9bd5"/><stop offset="0.18" stop-color="#2f86c6"/><stop offset="0.82" stop-color="#2f86c6"/><stop offset="1" stop-color="#5d9bd5"/></linearGradient><linearGradient id="pgrad" x1="0" y1="0" x2="1" y2="0"><stop offset="0" stop-color="#8c78bb"/><stop offset="0.18" stop-color="#7459a8"/><stop offset="0.82" stop-color="#7459a8"/><stop offset="1" stop-color="#8c78bb"/></linearGradient></defs>
<path fill="#d6d6d6" d="M590,847 L1460,841.7 L1460,848.4 L590,853.4 Z"/>
<path fill="#2f86c6" d="M594,831.3 L1450,826.5 L1460,826.5 C1472,826.5 1478,820.4 1490,820.4 L1925,819 L1925,834 L1490,836 C1478,836 1472,841.7 1460,841.7 L1450,841.7 L594,847 Z"/>
<path fill="#d4d4d4" d="M1460,841.7 C1472,841.7 1478,836 1490,836 L1925,834 L1925,850 L1490,850.8 C1478,850.8 1472,848.4 1460,848.4 Z"/>
<path fill="#fff" d="M1480,843 Q1490,841.2 1500,841.2 L1925,841 L1925,844.3 L1500,844.5 Q1490,844.5 1480,843 Z"/>
<path fill="#7459a8" d="M590,853.4 L1450,848.4 L1460,848.4 C1472,848.4 1478,850.8 1490,850.8 L1925,850 L1925,864.3 L1490,866.6 C1478,866.6 1472,863 1460,863 L1450,863 L590,868.6 Z"/>
<path d="M1534,837 Q1563,806 1590,834" fill="none" stroke="#d4d4d4" stroke-width="4.5"/>
<path d="M1122,826 L1122,846 M1389,824 L1389,844 M1589,817 L1589,867" fill="none" stroke="#d1d1d1" stroke-width="3.8"/>
<path d="M1313,1085 L1500,868 Q1512,852 1532,845" fill="none" stroke="#d1d1d1" stroke-width="5.5"/>
<rect x="1451" y="602" width="8.8" height="483" fill="#87878a"/>
<defs><linearGradient id="strR" x1="0" y1="0" x2="1" y2="0"><stop offset="0" stop-color="#fff" stop-opacity="0.28"/><stop offset="1" stop-color="#fff" stop-opacity="0"/></linearGradient><linearGradient id="strL" x1="1" y1="0" x2="0" y2="0"><stop offset="0" stop-color="#fff" stop-opacity="0.28"/><stop offset="1" stop-color="#fff" stop-opacity="0"/></linearGradient></defs>
<rect x="594.6" y="831.3" width="14" height="37.3" fill="url(#strR)"/>
<rect x="661.6" y="830.9" width="14" height="37.3" fill="url(#strR)"/>
<rect x="634.4" y="830.9" width="14" height="37.3" fill="url(#strL)"/>
<rect x="728.1" y="830.6" width="14" height="37.2" fill="url(#strR)"/>
<rect x="700.9" y="830.6" width="14" height="37.2" fill="url(#strL)"/>
<rect x="795.1" y="830.2" width="14" height="37.2" fill="url(#strR)"/>
<rect x="767.9" y="830.2" width="14" height="37.2" fill="url(#strL)"/>
<rect x="861.6" y="829.8" width="14" height="37.1" fill="url(#strR)"/>
<rect x="834.4" y="829.8" width="14" height="37.1" fill="url(#strL)"/>
<rect x="928.6" y="829.4" width="14" height="37.1" fill="url(#strR)"/>
<rect x="901.4" y="829.4" width="14" height="37.1" fill="url(#strL)"/>
<rect x="995.1" y="829.1" width="14" height="37.0" fill="url(#strR)"/>
<rect x="967.9" y="829.1" width="14" height="37.0" fill="url(#strL)"/>
<rect x="1061.6" y="828.7" width="14" height="37.0" fill="url(#strR)"/>
<rect x="1034.4" y="828.7" width="14" height="37.0" fill="url(#strL)"/>
<rect x="1195.6" y="828.0" width="14" height="36.9" fill="url(#strR)"/>
<rect x="1168.4" y="828.0" width="14" height="36.9" fill="url(#strL)"/>
<rect x="1261.6" y="827.6" width="14" height="36.8" fill="url(#strR)"/>
<rect x="1234.4" y="827.6" width="14" height="36.8" fill="url(#strL)"/>
<rect x="1328.6" y="827.2" width="14" height="36.8" fill="url(#strR)"/>
<rect x="1301.4" y="827.2" width="14" height="36.8" fill="url(#strL)"/>
<rect x="1445.6" y="826.6" width="14" height="36.7" fill="url(#strR)"/>
<rect x="1418.4" y="826.6" width="14" height="36.7" fill="url(#strL)"/>
<rect x="1528.6" y="819.5" width="14" height="46.0" fill="url(#strR)"/>
<rect x="1501.4" y="819.5" width="14" height="46.0" fill="url(#strL)"/>
<rect x="1662.0" y="819.5" width="14" height="46.0" fill="url(#strR)"/>
<rect x="1634.8" y="819.5" width="14" height="46.0" fill="url(#strL)"/>
<rect x="1728.6" y="819.5" width="14" height="46.0" fill="url(#strR)"/>
<rect x="1701.4" y="819.5" width="14" height="46.0" fill="url(#strL)"/>
<rect x="1795.6" y="819.5" width="14" height="46.0" fill="url(#strR)"/>
<rect x="1768.4" y="819.5" width="14" height="46.0" fill="url(#strL)"/>
<rect x="1861.9" y="819.5" width="14" height="46.0" fill="url(#strR)"/>
<rect x="1834.7" y="819.5" width="14" height="46.0" fill="url(#strL)"/>
<rect x="1904.6" y="819.5" width="14" height="46.0" fill="url(#strL)"/>
<rect x="581.35" y="832.4" width="13.3" height="33.5" fill="#363a45"/><circle cx="588" cy="838.5" r="4.6" fill="#e0262a"/><circle cx="588" cy="849.1" r="4.6" fill="#e6dc1c"/><circle cx="588" cy="859.7" r="4.6" fill="#6cbd3f"/>
<rect x="648.35" y="832.4" width="13.3" height="33.5" fill="#363a45"/><circle cx="655" cy="838.5" r="4.6" fill="#e0262a"/><circle cx="655" cy="849.1" r="4.6" fill="#e6dc1c"/><circle cx="655" cy="859.7" r="4.6" fill="#6cbd3f"/>
<rect x="714.85" y="832.4" width="13.3" height="33.5" fill="#363a45"/><circle cx="721.5" cy="838.5" r="4.6" fill="#e0262a"/><circle cx="721.5" cy="849.1" r="4.6" fill="#e6dc1c"/><circle cx="721.5" cy="859.7" r="4.6" fill="#6cbd3f"/>
<rect x="781.85" y="832.4" width="13.3" height="33.5" fill="#363a45"/><circle cx="788.5" cy="838.5" r="4.6" fill="#e0262a"/><circle cx="788.5" cy="849.1" r="4.6" fill="#e6dc1c"/><circle cx="788.5" cy="859.7" r="4.6" fill="#6cbd3f"/>
<rect x="848.35" y="832.4" width="13.3" height="33.5" fill="#363a45"/><circle cx="855" cy="838.5" r="4.6" fill="#e0262a"/><circle cx="855" cy="849.1" r="4.6" fill="#e6dc1c"/><circle cx="855" cy="859.7" r="4.6" fill="#6cbd3f"/>
<rect x="915.35" y="832.4" width="13.3" height="33.5" fill="#363a45"/><circle cx="922" cy="838.5" r="4.6" fill="#e0262a"/><circle cx="922" cy="849.1" r="4.6" fill="#e6dc1c"/><circle cx="922" cy="859.7" r="4.6" fill="#6cbd3f"/>
<rect x="981.85" y="832.4" width="13.3" height="33.5" fill="#363a45"/><circle cx="988.5" cy="838.5" r="4.6" fill="#e0262a"/><circle cx="988.5" cy="849.1" r="4.6" fill="#e6dc1c"/><circle cx="988.5" cy="859.7" r="4.6" fill="#6cbd3f"/>
<rect x="1048.35" y="832.4" width="13.3" height="33.5" fill="#363a45"/><circle cx="1055" cy="838.5" r="4.6" fill="#e0262a"/><circle cx="1055" cy="849.1" r="4.6" fill="#e6dc1c"/><circle cx="1055" cy="859.7" r="4.6" fill="#6cbd3f"/>
<rect x="1182.35" y="829.4" width="13.3" height="33.5" fill="#363a45"/><circle cx="1189" cy="835.5" r="4.6" fill="#e0262a"/><circle cx="1189" cy="846.1" r="4.6" fill="#e6dc1c"/><circle cx="1189" cy="856.7" r="4.6" fill="#6cbd3f"/>
<rect x="1248.35" y="829.4" width="13.3" height="33.5" fill="#363a45"/><circle cx="1255" cy="835.5" r="4.6" fill="#e0262a"/><circle cx="1255" cy="846.1" r="4.6" fill="#e6dc1c"/><circle cx="1255" cy="856.7" r="4.6" fill="#6cbd3f"/>
<rect x="1315.35" y="829.4" width="13.3" height="33.5" fill="#363a45"/><circle cx="1322" cy="835.5" r="4.6" fill="#e0262a"/><circle cx="1322" cy="846.1" r="4.6" fill="#e6dc1c"/><circle cx="1322" cy="856.7" r="4.6" fill="#6cbd3f"/>
<rect x="1432.35" y="829.4" width="13.3" height="33.5" fill="#363a45"/><circle cx="1439" cy="835.5" r="4.6" fill="#e0262a"/><circle cx="1439" cy="846.1" r="4.6" fill="#e6dc1c"/><circle cx="1439" cy="856.7" r="4.6" fill="#6cbd3f"/>
<rect x="1515.35" y="829.4" width="13.3" height="33.5" fill="#363a45"/><circle cx="1522" cy="835.5" r="4.6" fill="#e0262a"/><circle cx="1522" cy="846.1" r="4.6" fill="#e6dc1c"/><circle cx="1522" cy="856.7" r="4.6" fill="#6cbd3f"/>
<rect x="1648.75" y="829" width="13.3" height="33.5" fill="#363a45"/><circle cx="1655.4" cy="835.1" r="4.6" fill="#e0262a"/><circle cx="1655.4" cy="845.7" r="4.6" fill="#e6dc1c"/><circle cx="1655.4" cy="856.3" r="4.6" fill="#6cbd3f"/>
<rect x="1715.35" y="829" width="13.3" height="33.5" fill="#363a45"/><circle cx="1722" cy="835.1" r="4.6" fill="#e0262a"/><circle cx="1722" cy="845.7" r="4.6" fill="#e6dc1c"/><circle cx="1722" cy="856.3" r="4.6" fill="#6cbd3f"/>
<rect x="1782.35" y="829" width="13.3" height="33.5" fill="#363a45"/><circle cx="1789" cy="835.1" r="4.6" fill="#e0262a"/><circle cx="1789" cy="845.7" r="4.6" fill="#e6dc1c"/><circle cx="1789" cy="856.3" r="4.6" fill="#6cbd3f"/>
<rect x="1848.65" y="829" width="13.3" height="33.5" fill="#363a45"/><circle cx="1855.3" cy="835.1" r="4.6" fill="#e0262a"/><circle cx="1855.3" cy="845.7" r="4.6" fill="#e6dc1c"/><circle cx="1855.3" cy="856.3" r="4.6" fill="#6cbd3f"/>
<rect x="1918.55" y="829" width="13.3" height="33.5" fill="#363a45"/><circle cx="1925.2" cy="835.1" r="4.6" fill="#e0262a"/><circle cx="1925.2" cy="845.7" r="4.6" fill="#e6dc1c"/><circle cx="1925.2" cy="856.3" r="4.6" fill="#6cbd3f"/>
<rect x="782.05" y="762.2" width="13.3" height="33.5" fill="#363a45"/><circle cx="788.7" cy="768.3" r="4.6" fill="#e0262a"/><circle cx="788.7" cy="778.9" r="4.6" fill="#e6dc1c"/><circle cx="788.7" cy="789.5" r="4.6" fill="#6cbd3f"/>
<rect x="848.35" y="762.2" width="13.3" height="33.5" fill="#363a45"/><circle cx="855" cy="768.3" r="4.6" fill="#e0262a"/><circle cx="855" cy="778.9" r="4.6" fill="#e6dc1c"/><circle cx="855" cy="789.5" r="4.6" fill="#6cbd3f"/>
<rect x="1048.35" y="762.2" width="13.3" height="33.5" fill="#363a45"/><circle cx="1055" cy="768.3" r="4.6" fill="#e0262a"/><circle cx="1055" cy="778.9" r="4.6" fill="#e6dc1c"/><circle cx="1055" cy="789.5" r="4.6" fill="#6cbd3f"/>
<rect x="1182.35" y="762.2" width="13.3" height="33.5" fill="#363a45"/><circle cx="1189" cy="768.3" r="4.6" fill="#e0262a"/><circle cx="1189" cy="778.9" r="4.6" fill="#e6dc1c"/><circle cx="1189" cy="789.5" r="4.6" fill="#6cbd3f"/>
<rect x="1248.35" y="762.2" width="13.3" height="33.5" fill="#363a45"/><circle cx="1255" cy="768.3" r="4.6" fill="#e0262a"/><circle cx="1255" cy="778.9" r="4.6" fill="#e6dc1c"/><circle cx="1255" cy="789.5" r="4.6" fill="#6cbd3f"/>
<rect x="1515.55" y="762.2" width="13.3" height="33.5" fill="#363a45"/><circle cx="1522.2" cy="768.3" r="4.6" fill="#e0262a"/><circle cx="1522.2" cy="778.9" r="4.6" fill="#e6dc1c"/><circle cx="1522.2" cy="789.5" r="4.6" fill="#6cbd3f"/>
<rect x="1648.75" y="762.2" width="13.3" height="33.5" fill="#363a45"/><circle cx="1655.4" cy="768.3" r="4.6" fill="#e0262a"/><circle cx="1655.4" cy="778.9" r="4.6" fill="#e6dc1c"/><circle cx="1655.4" cy="789.5" r="4.6" fill="#6cbd3f"/>
<rect x="1648.75" y="654.2" width="13.3" height="33.5" fill="#363a45"/><circle cx="1655.4" cy="660.3" r="4.6" fill="#e0262a"/><circle cx="1655.4" cy="670.9" r="4.6" fill="#e6dc1c"/><circle cx="1655.4" cy="681.5" r="4.6" fill="#6cbd3f"/>
<rect x="1698.85" y="737.5" width="13.3" height="33.5" fill="#363a45"/><circle cx="1705.5" cy="743.6" r="4.6" fill="#e0262a"/><circle cx="1705.5" cy="754.2" r="4.6" fill="#e6dc1c"/><circle cx="1705.5" cy="764.8" r="4.6" fill="#6cbd3f"/>
<rect x="1782.15" y="737.5" width="13.3" height="33.5" fill="#363a45"/><circle cx="1788.8" cy="743.6" r="4.6" fill="#e0262a"/><circle cx="1788.8" cy="754.2" r="4.6" fill="#e6dc1c"/><circle cx="1788.8" cy="764.8" r="4.6" fill="#6cbd3f"/>
<rect x="1910.15" y="725" width="13.3" height="33.5" fill="#363a45"/><circle cx="1916.8" cy="731.1" r="4.6" fill="#e0262a"/><circle cx="1916.8" cy="741.7" r="4.6" fill="#e6dc1c"/><circle cx="1916.8" cy="752.3" r="4.6" fill="#6cbd3f"/>
<rect x="1514.85" y="945.8" width="13.3" height="33.5" fill="#363a45"/><circle cx="1521.5" cy="951.9" r="4.6" fill="#e0262a"/><circle cx="1521.5" cy="962.5" r="4.6" fill="#e6dc1c"/><circle cx="1521.5" cy="973.1" r="4.6" fill="#6cbd3f"/>
<rect x="1917.95" y="946" width="13.3" height="33.5" fill="#363a45"/><circle cx="1924.6" cy="952.1" r="4.6" fill="#e0262a"/><circle cx="1924.6" cy="962.7" r="4.6" fill="#e6dc1c"/><circle cx="1924.6" cy="973.3" r="4.6" fill="#6cbd3f"/>
<polygon fill="#4d4d4d" points="25.1,1066.6 60.8,1006.6 95.3,1066.6"/>
<rect x="10.2" y="599" width="404.6" height="46.4" fill="#7a7a7a" opacity="0.88"/>
<polygon fill="#2f80c5" points="1264.8,807.5 1286,796.2 1286,818.7"/>
<polygon fill="#7357a8" points="1433.5,881.8 1411,870.6 1411,893"/>
<text x="22.36" y="637.19" font-size="41.32" fill="#fff" textLength="378.48" lengthAdjust="spacingAndGlyphs">MERCER CORRIDOR</text>
<text x="437.52" y="804.40" font-size="55.07" font-weight="bold" fill="#c9c9c9" textLength="330.84" lengthAdjust="spacingAndGlyphs" style="mix-blend-mode:multiply">QUEEN ANNE</text>
<text x="1593.51" y="1024.00" font-size="55.51" font-weight="bold" fill="#c9c9c9" textLength="495.79" lengthAdjust="spacingAndGlyphs" style="mix-blend-mode:multiply">SOUTH LAKE UNION</text>
<text x="742.19" y="825.46" font-size="23.63" font-weight="bold" fill="#7d7d7d" textLength="194.03" lengthAdjust="spacingAndGlyphs">MERCER STREET</text>
<text x="1722.99" y="814.45" font-size="24.76" font-weight="bold" fill="#7d7d7d" textLength="194.03" lengthAdjust="spacingAndGlyphs">MERCER STREET</text>
<text x="1748.31" y="644.19" font-size="20.57" font-weight="bold" fill="#8b8b9b" textLength="120.42" lengthAdjust="spacingAndGlyphs">LAKE UNION</text>
<text x="975.43" y="986.38" font-size="21.97" font-weight="bold" fill="#8e8e9e" textLength="168.66" lengthAdjust="spacingAndGlyphs">SEATTLE CENTER</text>
<text x="44.13" y="965.77" font-size="22.92" font-weight="bold" fill="#8e8e9a" textLength="123.19" lengthAdjust="spacingAndGlyphs">ELLIOTT BAY</text>
<text x="1290.08" y="816.36" font-size="23.63" font-style="italic" fill="#2f80c5" textLength="143.65" lengthAdjust="spacingAndGlyphs">WESTBOUND</text>
<text x="1270.34" y="891.03" font-size="26.60" font-style="italic" fill="#7357a8" textLength="136.38" lengthAdjust="spacingAndGlyphs">EASTBOUND</text>
<text x="627.90" y="673.64" font-size="16.42" fill="#5e5e5e" textLength="110.41" lengthAdjust="spacingAndGlyphs">W OLYMPIC PL</text>
<text x="625.70" y="754.83" font-size="17.26" fill="#5e5e5e" textLength="71.95" lengthAdjust="spacingAndGlyphs">W ROY ST</text>
<text x="809.45" y="638.13" font-size="17.12" fill="#5e5e5e" textLength="74.89" lengthAdjust="spacingAndGlyphs">ALOHA ST</text>
<text x="809.40" y="701.23" font-size="17.12" fill="#5e5e5e" textLength="79.43" lengthAdjust="spacingAndGlyphs">VALLEY ST</text>
<text x="1553.00" y="776.53" font-size="17.12" fill="#5e5e5e" textLength="53.73" lengthAdjust="spacingAndGlyphs">ROY ST</text>
<text x="1804.90" y="749.63" font-size="16.70" fill="#5e5e5e" textLength="78.83" lengthAdjust="spacingAndGlyphs">VALLEY ST</text>
<text x="1939.60" y="803.44" font-size="16.42" fill="#5e5e5e" textLength="53.73" lengthAdjust="spacingAndGlyphs">ROY ST</text>
<text x="499.08" y="956.23" font-size="17.12" fill="#5e5e5e" textLength="125.78" lengthAdjust="spacingAndGlyphs">REPUBLICAN ST</text>
<text x="497.52" y="1049.83" font-size="16.98" fill="#5e5e5e" textLength="105.15" lengthAdjust="spacingAndGlyphs">HARRISON ST</text>
<text x="1556.68" y="956.82" font-size="18.40" fill="#5e5e5e" textLength="126.29" lengthAdjust="spacingAndGlyphs">REPUBLICAN ST</text>
<text x="1555.42" y="1050.82" font-size="18.40" fill="#5e5e5e" textLength="105.35" lengthAdjust="spacingAndGlyphs">HARRISON ST</text>
<text x="41.85" y="1066.60" font-size="44.35" font-weight="bold" font-style="italic" fill="#fff" textLength="32.35" lengthAdjust="spacingAndGlyphs">N</text>
<text x="618.40" y="-459.00" font-size="18.70" fill="#5e5e5e" textLength="79.88" lengthAdjust="spacingAndGlyphs" transform="rotate(90)">5TH AVE W</text>
<text x="617.44" y="-525.40" font-size="18.70" fill="#5e5e5e" textLength="81.24" lengthAdjust="spacingAndGlyphs" transform="rotate(90)">4TH AVE W</text>
<text x="617.19" y="-592.40" font-size="18.70" fill="#5e5e5e" textLength="82.86" lengthAdjust="spacingAndGlyphs" transform="rotate(90)">3RD AVE W</text>
<text x="619.90" y="-926.20" font-size="18.70" fill="#5e5e5e" textLength="117.77" lengthAdjust="spacingAndGlyphs" transform="rotate(90)">WARREN AVE N</text>
<text x="617.81" y="-992.70" font-size="18.70" fill="#5e5e5e" textLength="82.49" lengthAdjust="spacingAndGlyphs" transform="rotate(90)">2ND AVE N</text>
<text x="617.38" y="-1059.50" font-size="18.70" fill="#5e5e5e" textLength="80.89" lengthAdjust="spacingAndGlyphs" transform="rotate(90)">3RD AVE N</text>
<text x="619.05" y="-1126.40" font-size="18.70" fill="#5e5e5e" textLength="125.88" lengthAdjust="spacingAndGlyphs" transform="rotate(90)">NOB HILL AVE N</text>
<text x="617.64" y="-1193.30" font-size="18.70" fill="#5e5e5e" textLength="79.11" lengthAdjust="spacingAndGlyphs" transform="rotate(90)">4TH AVE N</text>
<text x="617.38" y="-1259.60" font-size="18.70" fill="#5e5e5e" textLength="79.38" lengthAdjust="spacingAndGlyphs" transform="rotate(90)">5TH AVE N</text>
<text x="618.65" y="-1326.20" font-size="18.70" fill="#5e5e5e" textLength="106.97" lengthAdjust="spacingAndGlyphs" transform="rotate(90)">TAYLOR AVE N</text>
<text x="617.22" y="-1392.50" font-size="18.70" fill="#5e5e5e" textLength="79.54" lengthAdjust="spacingAndGlyphs" transform="rotate(90)">6TH AVE N</text>
<text x="615.14" y="-1462.50" font-size="18.70" fill="#5e5e5e" textLength="46.24" lengthAdjust="spacingAndGlyphs" transform="rotate(90)">SR-99</text>
<text x="618.93" y="-1526.20" font-size="18.70" fill="#5e5e5e" textLength="110.70" lengthAdjust="spacingAndGlyphs" transform="rotate(90)">DEXTER AVE N</text>
<text x="617.33" y="-1593.00" font-size="18.70" fill="#5e5e5e" textLength="78.92" lengthAdjust="spacingAndGlyphs" transform="rotate(90)">8TH AVE N</text>
<text x="693.88" y="-1661.40" font-size="18.70" fill="#5e5e5e" textLength="78.77" lengthAdjust="spacingAndGlyphs" transform="rotate(90)">9TH AVE N</text>
<text x="648.09" y="-2017.90" font-size="18.70" fill="#5e5e5e" textLength="102.99" lengthAdjust="spacingAndGlyphs" transform="rotate(90)">MINOR AVE N</text>
<text x="888.74" y="-659.10" font-size="18.70" fill="#5e5e5e" textLength="83.02" lengthAdjust="spacingAndGlyphs" transform="rotate(90)">2ND AVE W</text>
<text x="888.35" y="-726.00" font-size="18.70" fill="#5e5e5e" textLength="78.70" lengthAdjust="spacingAndGlyphs" transform="rotate(90)">1ST AVE W</text>
<text x="893.27" y="-793.00" font-size="18.70" fill="#5e5e5e" textLength="153.99" lengthAdjust="spacingAndGlyphs" transform="rotate(90)">QUEEN ANNE AVE N</text>
<text x="888.33" y="-859.20" font-size="18.70" fill="#5e5e5e" textLength="76.92" lengthAdjust="spacingAndGlyphs" transform="rotate(90)">1ST AVE N</text>
<text x="920.30" y="-1727.40" font-size="18.70" fill="#5e5e5e" textLength="129.40" lengthAdjust="spacingAndGlyphs" transform="rotate(90)">WESTLAKE AVE N</text>
<text x="918.65" y="-1794.00" font-size="18.70" fill="#5e5e5e" textLength="99.09" lengthAdjust="spacingAndGlyphs" transform="rotate(90)">TERRY AVE N</text>
<text x="919.11" y="-1859.70" font-size="18.70" fill="#5e5e5e" textLength="105.05" lengthAdjust="spacingAndGlyphs" transform="rotate(90)">BOREN AVE N</text>
<text x="919.11" y="-1931.40" font-size="18.70" fill="#5e5e5e" textLength="122.94" lengthAdjust="spacingAndGlyphs" transform="rotate(90)">FAIRVIEW AVE N</text>
<text x="917.67" y="-1994.00" font-size="18.70" fill="#5e5e5e" textLength="104.32" lengthAdjust="spacingAndGlyphs" transform="rotate(90)">MINOR AVE N</text>
<text x="919.09" y="-2061.00" font-size="18.70" fill="#5e5e5e" textLength="120.01" lengthAdjust="spacingAndGlyphs" transform="rotate(90)">PONTIUS AVE N</text>
<text x="917.64" y="-2126.50" font-size="18.70" fill="#5e5e5e" textLength="87.20" lengthAdjust="spacingAndGlyphs" transform="rotate(90)">YALE AVE N</text>
<text x="-0.71" y="0.00" font-size="20.00" font-weight="bold" fill="#4d4d4d" textLength="116.40" lengthAdjust="spacingAndGlyphs" transform="translate(224.5,690) rotate(31.2)">&lt;TO BALLARD</text>
<text x="-0.10" y="0.00" font-size="18.70" fill="#5e5e5e" textLength="127.28" lengthAdjust="spacingAndGlyphs" transform="translate(1653,615.5) rotate(63.6)">WESTLAKE AVE N</text>
<text x="-1.24" y="0.00" font-size="18.70" fill="#5e5e5e" textLength="118.86" lengthAdjust="spacingAndGlyphs" transform="translate(1936.5,706.5) rotate(-51.3)">FAIRVIEW AVE N</text>
<text x="-0.97" y="0.00" font-size="15.94" font-weight="bold" fill="#fff" textLength="17.92" lengthAdjust="spacingAndGlyphs" transform="translate(2224,758) rotate(90)">5</text>
</g>
<rect x="160.7" y="1772.8" width="1958.9" height="405.2" fill="#f4f5f7"/>
<rect x="601.7" y="1772.8" width="1075.3" height="91.2" fill="#6d6d6d"/>
<circle cx="603.6" cy="1964.4" r="58.1" fill="#fff" stroke="#828282" stroke-width="4.2"/>
<path fill="#5a5b5e" d="M572.5,1940.5 Q570,1926 580,1922.5 Q590,1919 595,1929 Z"/>
<path fill="#5a5b5e" d="M634.3,1940.5 Q637,1926 627,1922.5 Q617,1919 612,1929 Z"/>
<polygon fill="#5a5b5e" points="576.6,1998.7 580.3,1988 590,1995.4"/>
<polygon fill="#5a5b5e" points="630.6,1998.7 626.9,1988 617.2,1995.4"/>
<circle cx="603.4" cy="1967.5" r="32.2" fill="#5a5b5e"/>
<circle cx="603.4" cy="1967.5" r="22.7" fill="#b3c47f"/>
<path fill="#148f87" d="M603.4,1967.5 L603.4,1944.8 A22.7,22.7 0 0 1 624.7,1959.7 Z"/>
<polygon fill="#fff" points="605.0,1944.5 601.8,1944.5 603.4,1951.5"/>
<polygon fill="#fff" points="626.4,1969.1 626.4,1965.9 619.4,1967.5"/>
<polygon fill="#fff" points="601.8,1990.5 605.0,1990.5 603.4,1983.5"/>
<polygon fill="#fff" points="580.4,1965.9 580.4,1969.1 587.4,1967.5"/>
<circle cx="1075.4" cy="1964.4" r="58.1" fill="#fff" stroke="#828282" stroke-width="4.2"/>
<clipPath id="co2c"><circle cx="1075.4" cy="1964.4" r="56"/></clipPath>
<g clip-path="url(#co2c)">
<circle cx="1067.5" cy="1919.6" r="4.3" fill="#716c7f"/>
<circle cx="1049.2" cy="1928.1" r="6.2" fill="#716c7f"/>
<path fill="#716c7f" d="M1061,1980 Q1066,1990 1077.6,1990.6 Q1068,1994 1060,1992 Q1052,1988 1053,1980 Z"/>
<circle cx="1061.8" cy="1982" r="8.5" fill="#716c7f"/>
<circle cx="1057.5" cy="1970.5" r="12.3" fill="#716c7f"/>
<circle cx="1055.1" cy="1953.3" r="16.6" fill="#716c7f"/>
<path d="M1043,1966 Q1056,1973 1068,1965" fill="none" stroke="#8a8596" stroke-width="1"/>
<polygon fill="#8a8499" points="1082.9,1948.8 1115.7,1947.6 1120.2,1931.4 1140,1925 1140,2005 1104.4,2000.7 1086.1,2000.7 1086.1,1995 1081.2,1995 1081.2,1981.2 1085.7,1981.2"/>
<ellipse cx="1090.6" cy="1968.3" rx="3.2" ry="6.4" fill="#7a4b3f"/>
<circle cx="1126" cy="1990" r="23" fill="#fff"/>
<circle cx="1127" cy="1991" r="18.3" fill="#6b6878"/>
</g>
<circle cx="1546.7" cy="1964.4" r="58.1" fill="#fff" stroke="#828282" stroke-width="4.2"/>
<polygon fill="#8aa3b5" points="1539.6,1939.5 1544.9,1931.4 1549.7,1929.3 1578.9,1924.5 1579.4,1928.5 1553.8,1936.2 1550.6,1939.5 1547.3,1946"/>
<polygon fill="#7b7c7e" points="1522.2,1941.9 1536.8,1939.1 1548.1,1946.4 1544.1,1954.1 1544.9,1961.4 1538.4,1971.9 1539.2,1977.6 1528.7,1995.4 1514.1,1989.8 1504.3,1983.3 1518.1,1960.6 1512.4,1956.5 1518.9,1946.8"/>
<polygon fill="#fff" points="1528.7,1968.3 1535.2,1973.5 1527,1990.6 1517.3,1984.9"/>
<polyline fill="none" stroke="#8aa3b5" stroke-width="2.2" points="1520.6,1985 1528,1974.5 1533.5,1974"/>
<polygon fill="#5a5b5e" points="1504.3,1984.9 1514.9,1989.3 1510.8,1997 1503.9,1988.5"/>
<path fill="#edb06f" d="M1579.4,1928.9 L1584.4,1944 A5.2,5.2 0 1 1 1574.4,1944 Z"/>
<path fill="#edb06f" d="M1579.4,1956.5 L1585.8,1977 A6.6,6.6 0 1 1 1573,1977 Z"/>
<rect x="539" y="2018" width="128.9" height="66.5" fill="#858585"/>
<rect x="990" y="2018" width="170" height="68" fill="#858585"/>
<rect x="1482" y="2017.6" width="129.8" height="67.4" fill="#858585"/>
<polygon fill="#15a556" points="703.6,1911.0 722.2,1944.0 707.8,1944.0 707.8,1992.4 699.4,1992.4 699.4,1944.0 685.0,1944.0"/>
<polygon fill="#15a556" points="1175.0,1991.3 1193.6,1958.9 1179.2,1958.9 1179.2,1911.4 1170.8,1911.4 1170.8,1958.9 1156.4,1958.9"/>
<polygon fill="#15a556" points="1646.6,1991.0 1665.2,1958.6 1650.8,1958.6 1650.8,1911.4 1642.4,1911.4 1642.4,1958.6 1628.0,1958.6"/>
<text x="618.37" y="1811.36" font-size="41.65" font-weight="bold" fill="#f3f3f3" textLength="1044.77" lengthAdjust="spacingAndGlyphs">YEARLY SAVINGS PER VEHICLE DURING PEAK PERIODS</text>
<text x="826.15" y="1850.40" font-size="32.73" fill="#f3f3f3" textLength="628.49" lengthAdjust="spacingAndGlyphs" stroke="#6d6d6d" stroke-width="0.5">(AM WESTBOUND, PM EASTBOUND ONLY)</text>
<text x="572.17" y="2046.50" font-size="28.55" fill="#fff" textLength="64.15" lengthAdjust="spacingAndGlyphs" stroke="#858585" stroke-width="0.6">TIME</text>
<text x="544.74" y="2076.00" font-size="29.14" fill="#fff" textLength="118.48" lengthAdjust="spacingAndGlyphs" stroke="#858585" stroke-width="0.6">SAVINGS</text>
<text x="994.74" y="2076.72" font-size="28.30" fill="#fff" textLength="161.16" lengthAdjust="spacingAndGlyphs" stroke="#858585" stroke-width="0.6">REDUCTION</text>
<text x="1511.32" y="2046.92" font-size="27.71" fill="#fff" textLength="70.08" lengthAdjust="spacingAndGlyphs" stroke="#858585" stroke-width="0.6">FUEL</text>
<text x="1488.76" y="2076.40" font-size="29.28" fill="#fff" textLength="116.03" lengthAdjust="spacingAndGlyphs" stroke="#858585" stroke-width="0.6">SAVINGS</text>
<text x="728.62" y="1963.81" font-size="59.01" font-weight="bold" fill="#231f20" textLength="65.68" lengthAdjust="spacingAndGlyphs">37</text>
<text x="727.65" y="2007.00" font-size="44.04" fill="#231f20" textLength="66.46" lengthAdjust="spacingAndGlyphs" stroke="#f4f5f7" stroke-width="0.6">hrs</text>
<text x="1200.01" y="1963.41" font-size="59.01" font-weight="bold" fill="#231f20" textLength="99.38" lengthAdjust="spacingAndGlyphs">367</text>
<text x="1198.29" y="2005.50" font-size="43.35" fill="#231f20" textLength="63.45" lengthAdjust="spacingAndGlyphs" stroke="#f4f5f7" stroke-width="0.6">lbs</text>
<text x="1672.04" y="1963.41" font-size="59.43" font-weight="bold" fill="#231f20" textLength="115.41" lengthAdjust="spacingAndGlyphs">15.3</text>
<text x="1671.81" y="2006.00" font-size="43.35" fill="#231f20" textLength="145.53" lengthAdjust="spacingAndGlyphs" stroke="#f4f5f7" stroke-width="0.6">gallons</text>
<text x="1051.99" y="2047.73" font-size="26.89" fill="#fff" textLength="39.23" lengthAdjust="spacingAndGlyphs" stroke="#858585" stroke-width="0.6">CO</text>
<text x="1090.84" y="2037.00" font-size="13.64" fill="#fff" textLength="7.31" lengthAdjust="spacingAndGlyphs" stroke="#858585" stroke-width="0.6">2</text>
</svg>
</body></html>
